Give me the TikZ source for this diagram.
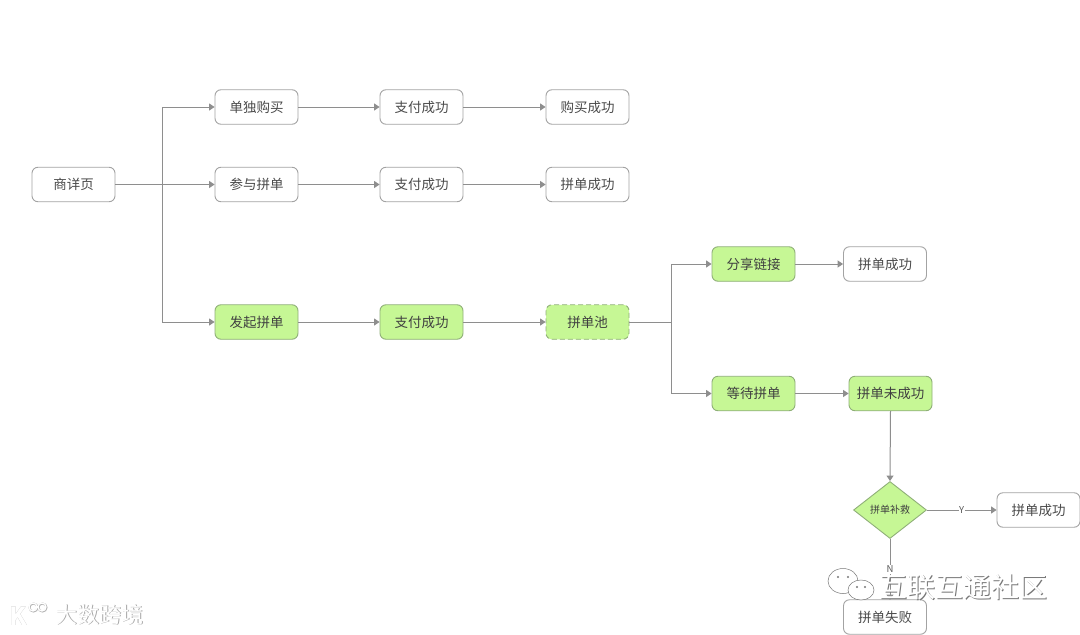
\documentclass[tikz,border=0pt]{standalone}
\usepackage{fontspec}
\setmainfont{Noto Sans CJK SC}
\usetikzlibrary{arrows.meta,shapes.geometric}
\definecolor{linec}{HTML}{8E8E8E}
\definecolor{boxb}{HTML}{A3A3A3}
\definecolor{greenf}{HTML}{C6F795}
\definecolor{greenb}{HTML}{8FAF78}
\definecolor{txt}{HTML}{4A4A4A}
\definecolor{wmshadow}{HTML}{777777}
\tikzset{
  every node/.style={font=\fontsize{13.5}{15}\selectfont,text=txt},
  plainbox/.style={draw=boxb,line width=0.9pt,rounded corners=6pt,minimum width=83pt,minimum height=34.5pt,inner sep=0pt,fill=white},
  greenbox/.style={plainbox,draw=greenb,fill=greenf,text=black!75},
  dashbox/.style={greenbox,dashed,dash pattern=on 5pt off 3pt},
  decide/.style={diamond,aspect=1.27,draw=greenb,fill=greenf,line width=0.9pt,minimum width=73pt,minimum height=57pt,inner sep=0pt,text=black!75,font=\fontsize{10}{11}\selectfont},
  conn/.style={draw=linec,line width=1pt,-{Triangle[length=5.5pt,width=7pt,fill=linec]}},
  link/.style={draw=linec,line width=1pt},
  edgelab/.style={font=\fontsize{9.5}{11}\selectfont,fill=white,inner sep=0.6pt,text=black!65},
  wmfront/.style={text=white,font=\fontsize{28}{30}\selectfont},
  wmback/.style={text=wmshadow,font=\fontsize{28}{30}\selectfont},
  wmfrontb/.style={text=white,font=\fontsize{22}{24}\selectfont},
  wmbackb/.style={text=black!35,font=\fontsize{22}{24}\selectfont},
}
\begin{document}
\begin{tikzpicture}[x=1pt,y=-1pt]
\useasboundingbox[fill=white] (0,0) rectangle (1080,635);
% row 1
\node[plainbox] (src) at (73.5,184.5) {商详页};
\node[plainbox] (a1) at (256.5,107) {单独购买};
\node[plainbox] (a2) at (421.5,107) {支付成功};
\node[plainbox] (a3) at (587.5,107) {购买成功};
% row 2
\node[plainbox] (b1) at (256.5,184.5) {参与拼单};
\node[plainbox] (b2) at (421.5,184.5) {支付成功};
\node[plainbox] (b3) at (587.5,184.5) {拼单成功};
% row 3
\node[greenbox] (c1) at (256.5,322) {发起拼单};
\node[greenbox] (c2) at (421.5,322) {支付成功};
\node[dashbox] (c3) at (587.5,322) {拼单池};
% branch
\node[greenbox] (d1) at (753.5,264) {分享链接};
\node[plainbox] (d2) at (885,264) {拼单成功};
\node[greenbox] (e1) at (753.5,393.5) {等待拼单};
\node[greenbox] (e2) at (890.5,393.5) {拼单未成功};
\node[decide] (f) at (890,510) {拼单补救};
\node[plainbox] (g) at (1038.5,510) {拼单成功};
\node[plainbox] (h) at (885,617) {拼单失败};
\coordinate (j1) at (162.5,184.5);
\coordinate (j2) at (671,322);
\coordinate (hin) at (890,600);
% connectors
\draw[link] (src.east) -- (j1);
\draw[conn] (j1) |- (a1.west);
\draw[conn] (j1) -- (b1.west);
\draw[conn] (j1) |- (c1.west);
\draw[conn] (a1) -- (a2);
\draw[conn] (a2) -- (a3);
\draw[conn] (b1) -- (b2);
\draw[conn] (b2) -- (b3);
\draw[conn] (c1) -- (c2);
\draw[conn] (c2) -- (c3);
\draw[link] (c3.east) -- (j2);
\draw[conn] (j2) |- (d1.west);
\draw[conn] (j2) |- (e1.west);
\draw[conn] (d1) -- (d2);
\draw[conn] (e1) -- (e2);
\draw[conn] (890.5,411) -- (f.north);
\draw[conn] (f) -- node[edgelab] (ly) {Y} (g);
\draw[conn] (f.south) -- node[edgelab,pos=0.5] (ln) {N} (hin);
% watermark top right
\begin{scope}[draw=wmshadow,fill=white,line width=0.5pt]
  \filldraw (843,581) ellipse [x radius=15,y radius=12.5];
  \filldraw (861,590) ellipse [x radius=13,y radius=10];
  \fill[wmshadow] (838,577) circle (1.2) (848,577) circle (1.2) (857,587) circle (1.1) (865,587) circle (1.1);
\end{scope}
\node[wmback,anchor=west] (wm1s) at (877,587.8) {互联互通社区};
\node[wmfront,anchor=west] (wm1) at (876,587) {互联互通社区};
% watermark bottom left
\node[wmbackb,anchor=west] (wm2s) at (52.6,615.6) {大数跨境};
\node[wmfrontb,anchor=west] (wm2) at (52,615) {大数跨境};
\node[text=black!35,font=\fontsize{25}{26}\selectfont\bfseries] (wm3s) at (18.6,616.6) {K};
\node[text=white,font=\fontsize{25}{26}\selectfont\bfseries] (wm3) at (18,616) {K};
\draw[black!30,line width=2pt] (33.5,607.5) circle (4) (42.5,607.5) circle (4);
\draw[white,line width=1.3pt] (33,607) circle (4) (42,607) circle (4);
\end{tikzpicture}
\end{document}
